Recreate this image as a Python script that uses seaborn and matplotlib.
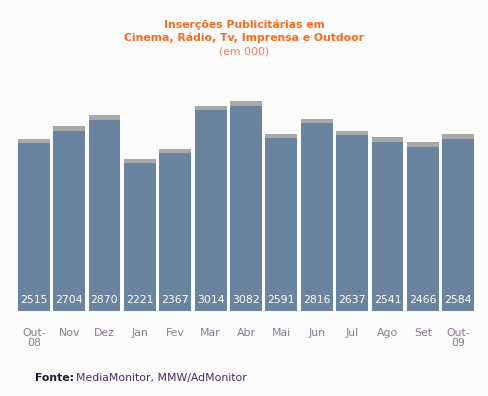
import matplotlib
matplotlib.use("Agg")
import matplotlib.pyplot as plt
import seaborn as sns
import pandas as pd

months = ["Out-\n08", "Nov", "Dez", "Jan", "Fev", "Mar", "Abr",
          "Mai", "Jun", "Jul", "Ago", "Set", "Out-\n09"]
values = [2515, 2704, 2870, 2221, 2367, 3014, 3082,
          2591, 2816, 2637, 2541, 2466, 2584]

df = pd.DataFrame({"mes": months, "valor": values})
# shadow band on top of each bar
df["sombra"] = df["valor"] + 65

sns.set_style("white")
plt.rcParams['font.family'] = ['DejaVu Sans']

fig = plt.figure(figsize=(4.89, 3.96), dpi=100, facecolor="#fcfcfc")
ax = fig.add_axes([16 / 489, 1 - 311 / 396, 460 / 489, 220 / 396])
ax.set_facecolor("#fcfcfc")

sns.barplot(data=df, x="mes", y="sombra", color="#a8a8a8", width=0.9,
            saturation=1, linewidth=0, edgecolor="none", ax=ax)
sns.barplot(data=df, x="mes", y="valor", color="#6a84a0", width=0.9,
            saturation=1, linewidth=0, edgecolor="none", ax=ax)

for i, v in enumerate(values):
    ax.text(i, 90, str(v), ha="center", va="bottom", color="white", fontsize=7.8)

ax.set_xlim(-0.5, len(values) - 0.5)
ax.set_ylim(0, 3300)
ax.set_xlabel("")
ax.set_ylabel("")
ax.set_yticks([])
ax.tick_params(axis="x", length=0, pad=12, labelsize=7.8, labelcolor="#8a7a90")
for lbl in ax.get_xticklabels():
    lbl.set_linespacing(1.1)
sns.despine(ax=ax, left=True, bottom=True)

fig.text(0.5, 1 - 25 / 396, "Inserções Publicitárias em", ha="center", va="center",
         color="#ff6a1a", fontsize=7.8, fontweight="bold")
fig.text(0.5, 1 - 38 / 396, "Cinema, Rádio, Tv, Imprensa e Outdoor", ha="center",
         va="center", color="#ff6a1a", fontsize=7.8, fontweight="bold")
fig.text(0.5, 1 - 52 / 396, "(em 000)", ha="center", va="center",
         color="#ff7a5a", fontsize=7.8)

fig.text(35 / 489, 1 - 378 / 396, "Fonte:", ha="left", va="center",
         color="#1a1a3a", fontsize=7.8, fontweight="bold")
fig.text(76 / 489, 1 - 378 / 396, "MediaMonitor, MMW/AdMonitor", ha="left",
         va="center", color="#4a2a6a", fontsize=7.8)

fig.savefig("out.png", dpi=100, facecolor=fig.get_facecolor())
